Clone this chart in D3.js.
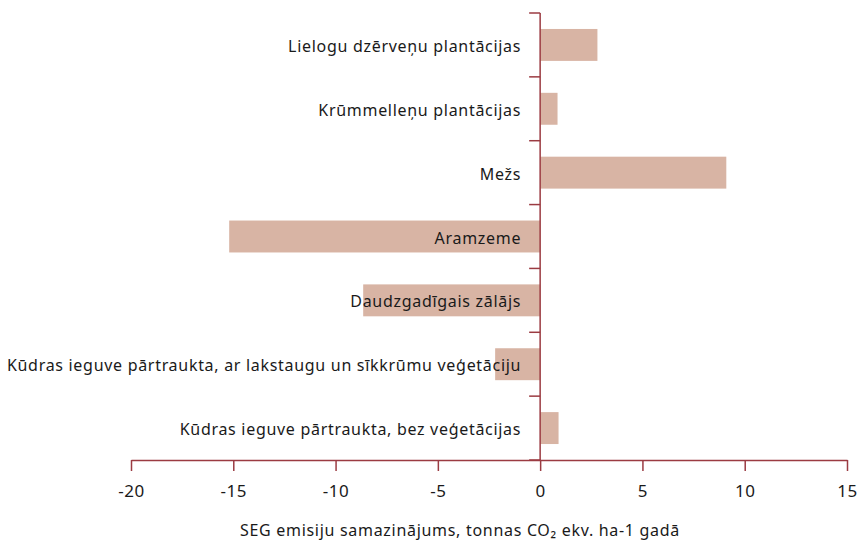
<!DOCTYPE html>
<html>
<head>
<meta charset="utf-8">
<script src="https://cdn.jsdelivr.net/npm/d3@7"></script>
<style>
  body { margin: 0; background: #fff; }
  text { font-family: "Noto Sans", "Open Sans", sans-serif; fill: #1a1a1a; }
</style>
</head>
<body>
<div id="chart"></div>
<script>
// categories, top to bottom
var categories = [
  "Lielogu dzērveņu plantācijas",
  "Krūmmelleņu plantācijas",
  "Mežs",
  "Aramzeme",
  "Daudzgadīgais zālājs",
  "Kūdras ieguve pārtraukta, ar lakstaugu un sīkkrūmu veģetāciju",
  "Kūdras ieguve pārtraukta, bez veģetācijas"
];
// SEG emisiju samazinājums, t CO2 ekv. ha-1 gadā
var values = [2.8, 0.85, 9.1, -15.2, -8.65, -2.2, 0.9];
var xTicks = [-20, -15, -10, -5, 0, 5, 10, 15];
var xTitle = "SEG emisiju samazinājums, tonnas CO₂ ekv. ha-1 gadā";

var width = 859, height = 541;
var axisColor = "#9b3b42", barColor = "#d8b4a4";

var svg = d3.select("#chart").append("svg")
  .attr("width", width)
  .attr("height", height);

var x = d3.scaleLinear().domain([-20, 15]).range([131, 847]);
var y = d3.scaleBand().domain(categories).range([13, 460]).paddingInner(0.5).paddingOuter(0.25);

// bars
svg.append("g").selectAll("rect")
  .data(values)
  .enter()
  .append("rect")
  .attr("x", function(d){ return x(Math.min(0, d)); })
  .attr("width", function(d){ return Math.abs(x(d) - x(0)); })
  .attr("y", function(d, i){ return y(categories[i]); })
  .attr("height", y.bandwidth())
  .attr("fill", barColor);

// vertical axis at zero, ticks between categories
var step = y.step();
var yAxis = svg.append("g");
yAxis.append("line")
  .attr("x1", x(0)).attr("x2", x(0))
  .attr("y1", 13).attr("y2", 460)
  .attr("stroke", axisColor).attr("stroke-width", 1.5);
yAxis.selectAll("line.tick")
  .data(d3.range(categories.length + 1))
  .enter()
  .append("line")
  .attr("class", "tick")
  .attr("x1", x(0) - 11).attr("x2", x(0))
  .attr("y1", function(i){ return 13 + i * step; })
  .attr("y2", function(i){ return 13 + i * step; })
  .attr("stroke", axisColor).attr("stroke-width", 1.5);

// category labels
svg.append("g").selectAll("text")
  .data(categories)
  .enter()
  .append("text")
  .attr("x", x(0) - 19)
  .attr("y", function(d){ return y(d) + y.bandwidth() / 2 + 7; })
  .attr("text-anchor", "end")
  .attr("font-size", 16)
  .attr("letter-spacing", "0.7px")
  .text(function(d){ return d; });

// bottom axis
var xAxis = svg.append("g").attr("transform", "translate(0,460)")
  .call(d3.axisBottom(x).tickValues(xTicks).tickSize(11).tickSizeOuter(0).tickPadding(14)
    .tickFormat(function(d){ return String(d).replace("−", "-"); }));
xAxis.select(".domain").attr("stroke", axisColor).attr("stroke-width", 1.5);
xAxis.selectAll(".tick line").attr("stroke", axisColor).attr("stroke-width", 1.5);
xAxis.selectAll(".tick text")
  .attr("font-size", 17)
  .attr("letter-spacing", "0.5px")
  .attr("font-family", "'Noto Sans', 'Open Sans', sans-serif")
  .attr("fill", "#1a1a1a");

svg.append("text")
  .attr("x", 460)
  .attr("y", 536)
  .attr("text-anchor", "middle")
  .attr("font-size", 16)
  .attr("letter-spacing", "0.7px")
  .text(xTitle);
</script>
</body>
</html>
